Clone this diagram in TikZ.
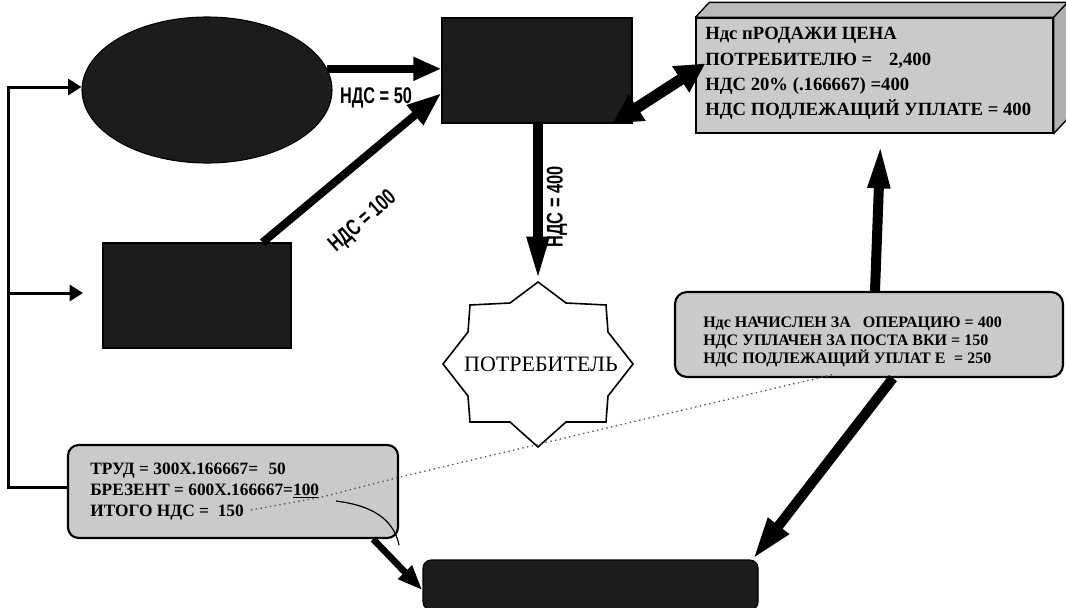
\documentclass[tikz,border=0pt]{standalone}
\usepackage{fontspec}
\setmainfont{Liberation Serif}
\newfontfamily\lsans{Liberation Sans}
\usetikzlibrary{arrows.meta,calc,shapes.geometric}
\definecolor{darkfill}{HTML}{1C1C1C}
\definecolor{lightfill}{HTML}{CACACA}
\definecolor{topfill}{HTML}{BBBBBB}
\definecolor{sidefill}{HTML}{B0B0B0}
\definecolor{dotgray}{HTML}{505050}
\begin{document}
\begin{tikzpicture}[x=0.75pt,y=-0.75pt,
  darkshape/.style={draw=black, fill=darkfill, line width=0.8pt, inner sep=0pt},
  lightbox/.style={draw=black, fill=lightfill, line width=1.6pt, rounded corners=9pt},
  boxline/.style={anchor=base west, inner sep=0pt, font=\bfseries\fontsize{14}{14}\selectfont},
  rline/.style={anchor=base west, inner sep=0pt, font=\bfseries\fontsize{12}{12}\selectfont},
  lline/.style={anchor=base west, inner sep=0pt, font=\bfseries\fontsize{13}{13}\selectfont},
  bracketline/.style={line width=2.25pt, line join=miter},
  smallarrow/.style={line width=2.25pt, -{Triangle[length=10pt,width=12pt]}},
  flatarrow/.style={line width=6pt, -{Triangle[length=21pt,width=16.5pt]}},
  slantarrow/.style={line width=6pt, -{Triangle[length=26pt,width=18pt]}},
  longarrow/.style={line width=7.5pt, -{Triangle[length=34pt,width=15pt]}},
  botharrow/.style={line width=8.5pt, {Triangle[length=22pt,width=22pt]}-{Triangle[length=22pt,width=22pt]}},
  downslant/.style={line width=7.5pt, -{Triangle[length=32pt,width=18pt]}},
  lowarrow/.style={line width=5pt, -{Triangle[length=19pt,width=13.5pt]}},
  vatlabel/.style={font=\lsans\bfseries\fontsize{17}{17}\selectfont, inner sep=0pt},
  dotline/.style={dotgray, line width=1pt, dash pattern=on 1pt off 2.6pt}
]
\useasboundingbox (0,0) rectangle (1066,607);

% ---- shapes ----
\node[darkshape, ellipse, minimum width=187.5pt, minimum height=109.5pt] (ell) at (207,90) {};
\node[darkshape, minimum width=142.5pt, minimum height=78.75pt] (trect) at (537,70.5) {};
\node[darkshape, minimum width=141pt, minimum height=78.75pt] (lrect) at (197,295.5) {};
\node[darkshape, rounded corners=6pt, minimum width=251.25pt, minimum height=37.5pt] (bbar) at (590.5,585) {};

% 3D box
\node[draw=black, fill=lightfill, line width=1pt, minimum width=267.75pt, minimum height=86.25pt] (box3d) at (874.5,75.5) {};
\draw[fill=topfill, line width=1pt, line join=round] (box3d.north west) -- ++(14,-15)
  -- ([shift={(14,-15)}]box3d.north east) -- (box3d.north east) -- cycle;
\draw[fill=sidefill, line width=1pt, line join=round] (box3d.north east) -- ++(14,-15)
  -- ([shift={(14,-15)}]box3d.south east) -- (box3d.south east) -- cycle;
\node[boxline] (b1) at (705,39) {Ндс пРОДАЖИ ЦЕНА};
\node[boxline] (b2) at (705,65) {ПОТРЕБИТЕЛЮ =\hspace{0.9em}2,400};
\node[boxline] (b3) at (705,90) {НДС 20\% (.166667) =400};
\node[boxline] (b4) at (705,115) {НДС ПОДЛЕЖАЩИЙ УПЛАТЕ = 400};

% right rounded box
\node[lightbox, minimum width=291pt, minimum height=63.75pt] (rbox) at (869,334.5) {};
\node[rline] (r1) at (703,327) {Ндс НАЧИСЛЕН ЗА\hspace{0.5em} ОПЕРАЦИЮ = 400};
\node[rline] (r2) at (703,345) {НДС УПЛАЧЕН ЗА ПОСТА ВКИ = 150};
\node[rline] (r3) at (703,363) {НДС ПОДЛЕЖАЩИЙ УПЛАТ Е\hspace{0.3em} = 250};

% bottom-left rounded box
\node[lightbox, rounded corners=8pt, minimum width=247.5pt, minimum height=69.75pt] (lbox) at (233,491.5) {};
\node[lline] (t1) at (90,474) {ТРУД = 300Х.166667=\hspace{0.6em}50};
\node[lline] (t2) at (90,495) {БРЕЗЕНТ = 600Х.166667=\underline{100}};
\node[lline] (t3) at (90,516) {ИТОГО НДС =\hspace{0.5em}150};
\draw[line width=0.9pt] ($(lbox.south east)+(-63,-38)$) .. controls ($(lbox.south east)+(-30,-34)$) and ($(lbox.south east)+(-6,-22)$) .. ($(lbox.south east)+(0,6)$);

% star
\node[inner sep=0pt, font=\fontsize{16.5}{16.5}\selectfont] (star) at (541,364) {ПОТРЕБИТЕЛЬ};
\draw[line width=1.2pt, line join=miter, shift={(538,364)}]
  (0,-82) -- (-28,-61) -- (-68,-59) -- (-70,-32) -- (-95,0) -- (-70,32) -- (-68,58) -- (-28,58)
  -- (0,83) -- (28,58) -- (68,58) -- (70,32) -- (95,0) -- (70,-32) -- (68,-59) -- (28,-61) -- cycle;
\coordinate (startop) at (538,282);

% ---- dotted pointer ----
\coordinate (d150) at (251,510);
\coordinate (d100) at (322,497);
\coordinate (dj) at (400,477);
\coordinate (dend) at (835,374);
\draw[dotline] (d150) -- (d100) -- (dj) -- (dend);

% ---- left bracket ----
\coordinate (lt) at (8,87);
\coordinate (lm) at (8,293);
\coordinate (lb) at (8,487);
\coordinate (lmend) at (83,293);
\draw[bracketline] (lbox.west |- lb) -- (lb) -- (lt);
\draw[smallarrow] ([xshift=-1.1pt]lt) -- (ell.west |- lt);
\draw[smallarrow] (lm) -- (lmend);

% ---- connectors ----
\draw[flatarrow] (ell.10) -- (ell.10 -| trect.west);
\draw[slantarrow] ([xshift=-21.75pt]lrect.north east) -- ([yshift=-16.9pt]trect.west);
\draw[longarrow] (trect.south -| startop) -- (startop);
\draw[botharrow] ([xshift=-15pt,yshift=0pt]trect.south east) -- ([xshift=7.5pt,yshift=9pt]box3d.west);
\draw[longarrow] ([xshift=4.5pt]rbox.north) -- ([xshift=4.5pt,yshift=-7pt]box3d.south);
\draw[downslant] ([xshift=18pt]rbox.south) -- ([xshift=-4.5pt]bbar.north east);
\draw[lowarrow] ([xshift=-19.5pt]lbox.south east) -- ([yshift=-4pt]bbar.west);

% ---- labels ----
\node[vatlabel] (l50) at (376,98) {\scalebox{0.72}[1]{НДС = 50}};
\node[vatlabel, rotate=41] (l100) at (363,222) {\scalebox{0.72}[1]{НДС = 100}};
\node[vatlabel, rotate=90] (l400) at (557,207) {\scalebox{0.72}[1]{НДС = 400}};
\end{tikzpicture}
\end{document}
